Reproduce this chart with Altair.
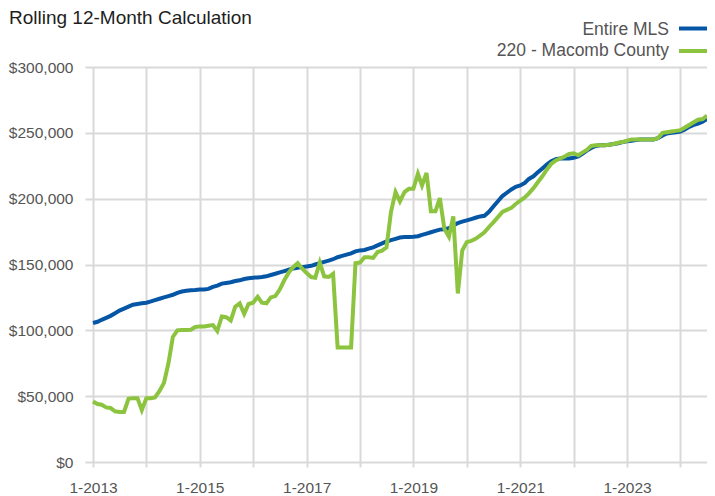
import altair as alt
import pandas as pd

# Monthly values, Jan 2013 .. Jul 2024 (in $ thousands)
entire_mls = [
    105.6, 106.5, 108, 109.5, 111, 113, 115, 116.5, 118, 119.5, 120, 120.5,
    121, 122, 123, 124, 125, 126, 127, 128.5, 129.5, 130, 130.5, 130.7,
    131, 131, 131.5, 133, 134, 135.5, 136, 136.5, 137.5, 138, 139, 139.5,
    140, 140.2, 140.5, 141, 142, 143, 144, 145, 146, 147, 147.5, 148,
    148.5, 149, 150, 151, 152, 153, 154, 155.5, 156.5, 157.5, 158.5, 160,
    160.7, 161, 162, 163, 164.5, 166, 167.5, 168.5, 169.5, 170.5, 170.8, 170.8,
    171, 171.5, 172.5, 173.5, 174.5, 175.5, 176.5, 176.8, 177.5, 179.5, 181.5, 182.5,
    183.5, 184.5, 185.5, 186.5, 187, 190, 194, 198, 202, 204.5, 207, 209,
    210, 212, 215, 217, 220, 223, 226, 228.5, 230, 230.5, 230.5, 230.5,
    231, 232, 234, 236.5, 238.5, 240, 240.5, 240.5, 241, 241.5, 242, 243,
    243.5, 244, 244.5, 245, 245, 245, 245, 246, 248, 249.5, 250, 250.5,
    251, 252.5, 254.5, 256, 257, 258.5, 260.5,
]
macomb = [
    46, 44, 43.5, 41.5, 41, 38.5, 38, 38, 48, 48.5, 48.5, 39.5,
    48.5, 48.5, 49, 54, 60, 75, 95, 100, 100.3, 100.3, 100.5, 102.5,
    103, 103, 103.5, 104, 99.5, 110.5, 110, 107.5, 118, 120.5, 112.5, 120,
    121, 125.5, 121, 120.5, 125, 126, 131, 138, 144, 148, 151, 147,
    143.5, 140.5, 140, 151.5, 141, 140.5, 143, 87, 87, 87, 87, 151,
    151.5, 155.5, 155.5, 155, 159.5, 160.5, 163, 190, 205, 198, 205, 207.5,
    207.5, 219, 210, 219.5, 190.5, 190.5, 200.5, 177, 171, 186.5, 128, 160.5,
    167, 168, 169.5, 172, 174.5, 178.5, 182, 186, 190, 191.5, 193, 196,
    198.5, 201, 204, 208, 212.5, 217, 222, 226.5, 229, 230.5, 232, 234,
    234.5, 233, 235, 237, 240, 240.5, 240.5, 240.5, 241, 241.5, 242.5, 243,
    244, 245, 245, 245, 245, 245, 245, 246, 250, 250.5, 251, 251.5,
    252, 254, 256, 258, 260, 260.5, 263,
]
series_names = ["Entire MLS", "220 - Macomb County"]
series_colors = ["#0656a6", "#8cc43f"]
y_ticks = [0, 50000, 100000, 150000, 200000, 250000, 300000]
tick_years = list(range(2013, 2025))
title_text = "Rolling 12-Month Calculation"

dates = pd.date_range("2013-01-01", periods=len(entire_mls), freq="MS").strftime("%Y-%m-%d")
df_mls = pd.DataFrame({"date": dates, "value": [v * 1000 for v in entire_mls]})
df_mac = pd.DataFrame({"date": dates, "value": [v * 1000 for v in macomb]})

FONT = "Liberation Sans, Arial, sans-serif"
GRID = "#d9d9d9"
LABEL = "#555555"

W = 614

x_enc = alt.X(
    "date:T",
    scale=alt.Scale(type="utc", domain=[dates[0], dates[-1]], nice=False),
    axis=alt.Axis(
        values=[alt.DateTime(year=y, month=1, date=1, utc=True) for y in tick_years],
        labelExpr="utcyear(datum.value) % 2 == 1 ? '1-' + utcyear(datum.value) : ''",
        title=None, grid=True, gridColor=GRID, gridWidth=2, domain=False,
        tickColor=GRID, tickWidth=2, tickSize=5, labelPadding=13,
        labelFont=FONT, labelFontSize=15.5, labelColor=LABEL,
        labelOverlap=False, labelFlush=False,
    ),
)
y_enc = alt.Y(
    "value:Q",
    scale=alt.Scale(domain=[0, 300000], nice=False),
    axis=alt.Axis(
        values=y_ticks, format="$,.0f", title=None, grid=True, gridColor=GRID,
        gridWidth=2, domain=False, tickColor=GRID, tickWidth=2, tickSize=8,
        labelPadding=12, labelFont=FONT, labelFontSize=15.5, labelColor=LABEL,
    ),
)

line_mls = alt.Chart(df_mls).mark_line(color=series_colors[0], strokeWidth=4).encode(x=x_enc, y=y_enc)
line_mac = alt.Chart(df_mac).mark_line(color=series_colors[1], strokeWidth=4).encode(x=x_enc, y=y_enc)

def text_layer(txt, x, y, size, color, align):
    return alt.Chart(pd.DataFrame({"t": [txt]})).mark_text(
        align=align, baseline="alphabetic", font=FONT, fontSize=size, color=color
    ).encode(text="t:N", x=alt.value(x), y=alt.value(y))

def legend_line(color, y):
    return alt.Chart(pd.DataFrame({"t": [0]})).mark_rule(color=color, strokeWidth=4).encode(
        x=alt.value(W - 28), x2=alt.value(W), y=alt.value(y)
    )

title_l = text_layer(title_text, -84, -43, 19, "#1e1e1e", "left")
leg1 = text_layer(series_names[0], W - 38, -32.5, 17.5, LABEL, "right")
leg2 = text_layer(series_names[1], W - 38, -11, 17.5, LABEL, "right")
ll1 = legend_line(series_colors[0], -38.5)
ll2 = legend_line(series_colors[1], -16)

chart = alt.layer(line_mls, line_mac, title_l, leg1, leg2, ll1, ll2).properties(
    width=W, height=395,
    autosize=alt.AutoSizeParams(type="none"),
    padding={"left": 85, "top": 59, "right": 0, "bottom": 40},
).configure_view(strokeWidth=0).configure(background="white")

chart.save("out.html", embed_options={"renderer": "svg", "actions": False})
